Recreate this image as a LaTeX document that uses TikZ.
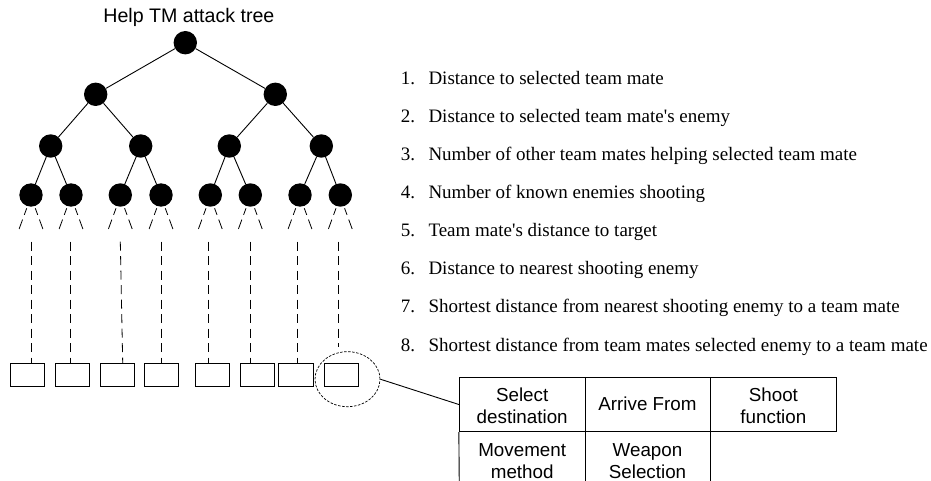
\documentclass[tikz,border=0pt]{standalone}
\usepackage{fontspec}
\setmainfont{Liberation Serif}
\newfontfamily\timesfont{Liberation Serif}
\newfontfamily\arialfont{Liberation Sans}
\usetikzlibrary{calc,shapes.geometric}

\tikzset{
  dot/.style={circle, fill=black, draw=none, inner sep=0pt, minimum size=23.4pt},
  treeedge/.style={line width=0.9pt},
  splitdash/.style={line width=0.8pt, dash pattern=on 7pt off 5pt on 10pt off 5pt},
  dropdash/.style={line width=0.8pt, dash pattern=on 9pt off 5.5pt},
  leafbox/.style={draw, line width=1pt, minimum width=34.3pt, minimum height=23.4pt, inner sep=0pt},
  lens/.style={draw, ellipse, line width=0.7pt, dash pattern=on 2.5pt off 1.5pt,
               minimum width=65pt, minimum height=55pt, inner sep=0pt},
  tline/.style={line width=0.9pt},
  itemtext/.style={anchor=base west, inner sep=0pt, font=\timesfont\fontsize{19}{22}\selectfont},
  cell/.style={align=center, inner sep=0pt, font=\arialfont\fontsize{18.8}{21.7}\selectfont},
  heading/.style={anchor=base, inner sep=0pt, font=\arialfont\fontsize{19.6}{22}\selectfont}
}

\begin{document}
\begin{tikzpicture}[x=1pt, y=-1pt]
\useasboundingbox (0,0) rectangle (931,481);

% title
\node[heading] (title) at (188.9,22.7) {Help TM attack tree};

% binary tree
\node[dot] (r)  at (185.3,42.7) {};
\node[dot] (a)  at (95.7,94.3) {};
\node[dot] (b)  at (275.3,94.3) {};
\node[dot] (a1) at (50.7,146) {};
\node[dot] (a2) at (140.7,146) {};
\node[dot] (b1) at (229.3,146) {};
\node[dot] (b2) at (321.3,146) {};
\node[dot] (l1) at (31,195) {};
\node[dot] (l2) at (71,195) {};
\node[dot] (l3) at (120.3,195) {};
\node[dot] (l4) at (161,195) {};
\node[dot] (l5) at (210.3,195) {};
\node[dot] (l6) at (250.3,195) {};
\node[dot] (l7) at (300,195) {};
\node[dot] (l8) at (340.3,195) {};

\draw[treeedge] (r) -- (a);   \draw[treeedge] (r) -- (b);
\draw[treeedge] (a) -- (a1);  \draw[treeedge] (a) -- (a2);
\draw[treeedge] (b) -- (b1);  \draw[treeedge] (b) -- (b2);
\draw[treeedge] (a1) -- (l1); \draw[treeedge] (a1) -- (l2);
\draw[treeedge] (a2) -- (l3); \draw[treeedge] (a2) -- (l4);
\draw[treeedge] (b1) -- (l5); \draw[treeedge] (b1) -- (l6);
\draw[treeedge] (b2) -- (l7); \draw[treeedge] (b2) -- (l8);

% further branching hinted below each leaf
\foreach \n in {1,...,8} {
  \draw[splitdash] ($(l\n)+(-4.3,13.3)$) -- ($(l\n)+(-12,34.3)$);
  \draw[splitdash] ($(l\n)+(4.3,13.3)$) -- ($(l\n)+(12,34.3)$);
}

% leaf boxes
\node[leafbox] (k1) at (27.2,375) {};
\node[leafbox] (k2) at (72.2,375) {};
\node[leafbox] (k3) at (117.2,375) {};
\node[leafbox] (k4) at (161.8,375) {};
\node[leafbox] (k5) at (212.2,375) {};
\node[leafbox] (k6) at (257.2,375) {};
\node[leafbox] (k7) at (296,375) {};
\node[leafbox] (k8) at (341.7,375) {};

% magnifier ring round the last box
\node[lens] (zoom) at (347.5,379.2) {};

% dashed drops down to the boxes
\coordinate (t1) at (31.7,241.7);
\coordinate (t2) at (70.3,241.7);
\coordinate (t3) at (120.3,241.7);
\coordinate (t4) at (161.7,241.7);
\coordinate (t5) at (208.3,241.7);
\coordinate (t6) at (250,241.7);
\coordinate (t7) at (297.7,241.7);
\coordinate (t8) at (338.3,241.7);
\coordinate (e8) at (338.3,347);
\foreach \n in {1,2,4,5,6,7} {
  \draw[dropdash] (t\n) -- (t\n |- k\n.north);
}
\draw[dropdash] (t3) -- ($(k3.north)+(5.5,0)$);
\draw[dropdash] (t8) -- (e8);

% detail table
\node[draw, tline, minimum width=377.4pt, minimum height=54.4pt, inner sep=0pt] (tbl) at (648,404.5) {};
\draw[treeedge] (zoom.east) -- (tbl.west);
\draw[tline] (585,377.3) -- (585,490);
\draw[tline] (710,377.3) -- (710,490);
\draw[tline] (tbl.south west) -- (459.3,490);

\node[cell] (c11) at (522.2,405.7) {Select\\destination};
\node[cell] (c12) at (647.5,403.3) {Arrive From};
\node[cell] (c13) at (773.4,405.7) {Shoot\\function};
\node[cell] (c21) at (522.2,461.3) {Movement\\method};
\node[cell] (c22) at (647.5,461.3) {Weapon\\Selection};

% numbered list of inputs
\foreach \i/\txt in {
  1/Distance to selected team mate,
  2/Distance to selected team mate's enemy,
  3/Number of other team mates helping selected team mate,
  4/Number of known enemies shooting,
  5/Team mate's distance to target,
  6/Distance to nearest shooting enemy,
  7/Shortest distance from nearest shooting enemy to a team mate,
  8/Shortest distance from team mates selected enemy to a team mate} {
  \node[itemtext] (n\i) at (400.7,{84.3+38.1*(\i-1)}) {\i.};
  \node[itemtext] (s\i) at (428.3,{84.3+38.1*(\i-1)}) {\txt};
}
\end{tikzpicture}
\end{document}
